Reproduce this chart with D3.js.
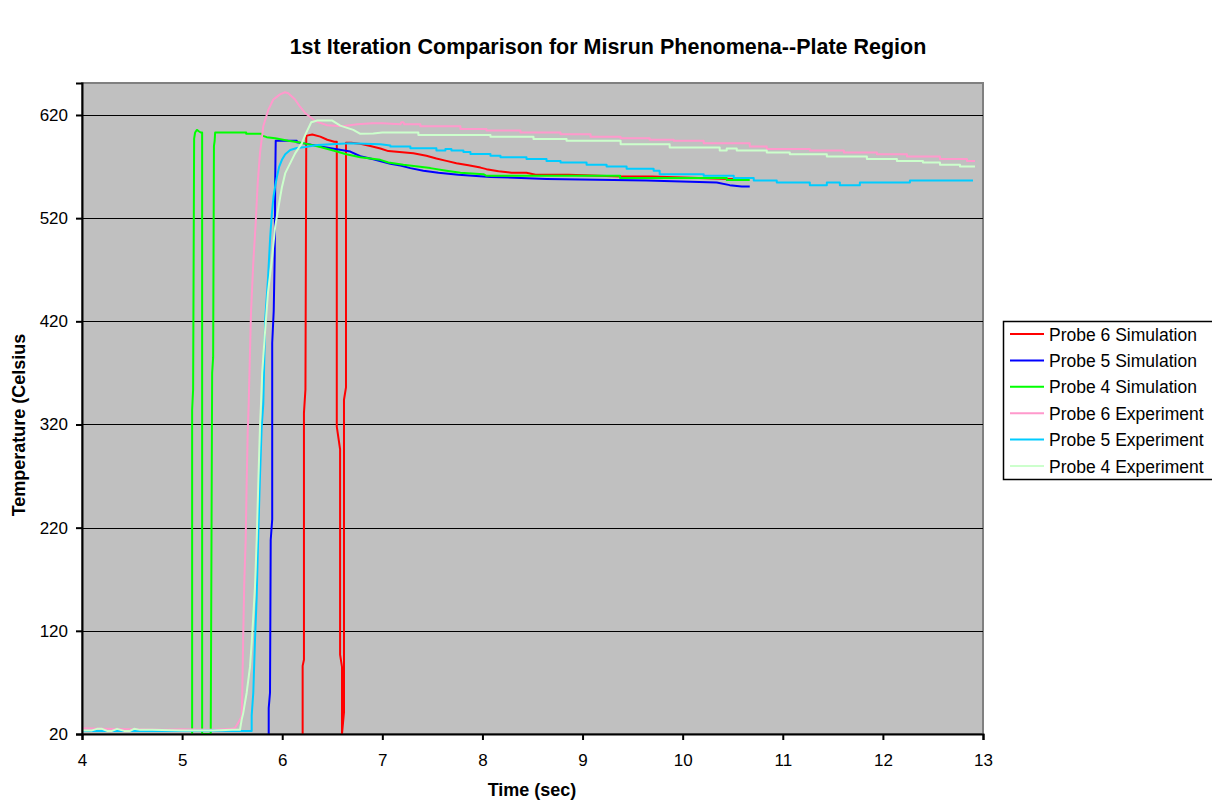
<!DOCTYPE html>
<html><head><meta charset="utf-8">
<script src="https://cdn.jsdelivr.net/npm/d3@7"></script>
<style>
html,body{margin:0;padding:0;background:#fff;}
svg{display:block;font-family:Arial,"Liberation Sans",sans-serif;}
</style></head>
<body>
<svg id="chart" width="1212" height="803"></svg>
<script>
// ---- data ([time sec, temperature C]) ----
const seriesNames = ["Probe 6 Simulation","Probe 5 Simulation","Probe 4 Simulation",
                     "Probe 6 Experiment","Probe 5 Experiment","Probe 4 Experiment"];
const seriesColors = ["#ff0000","#0000ff","#00ff00","#ff99cc","#00ccff","#ccffcc"];
const xTicks = [4,5,6,7,8,9,10,11,12,13];
const yTicks = [20,120,220,320,420,520,620];

const probe6Sim = [[6.204,20],[6.204,86],[6.217,92],[6.217,331],[6.232,354],[6.24,598],[6.245,600],[6.30,601],[6.38,599],[6.45,596],[6.52,594],[6.545,594],[6.545,318],[6.578,296],[6.578,97],[6.597,85],[6.597,20],[6.617,41],[6.617,344],[6.637,356],[6.637,593],[6.69,593],[6.78,592],[6.88,590],[6.98,587.5],[7.06,585],[7.31,583],[7.44,580.4],[7.54,577.8],[7.64,575.5],[7.74,573.3],[7.86,571.3],[7.98,569],[8.04,567.5],[8.16,565.5],[8.29,564],[8.44,564],[8.53,562],[8.86,562],[9.39,560.3],[9.69,560.3],[10.47,558],[10.52,558]];

const probe5Sim = [[5.865,20],[5.865,45],[5.878,60],[5.885,208],[5.90,228],[5.90,399],[5.915,430],[5.925,483],[5.93,557],[5.935,595],[6.145,595],[6.145,593.6],[6.245,592],[6.41,589],[6.53,587],[6.68,584.5],[6.78,580],[6.91,577],[7.08,572.6],[7.18,571],[7.28,568.5],[7.41,566],[7.56,564],[7.76,562],[8.08,560],[8.64,558],[9.64,556.5],[10.34,554.5],[10.47,552],[10.59,550.6],[10.67,550.6]];

const probe4Sim = [[5.10,20],[5.10,334],[5.11,354],[5.12,597],[5.13,603],[5.148,605.5],[5.17,604],[5.186,603],[5.20,603],[5.20,20],[5.286,20],[5.29,120],[5.30,370],[5.31,385],[5.318,590],[5.325,595],[5.33,603],[5.64,603],[5.64,601.7],[5.795,601.7],[5.80,600],[5.845,598.5],[5.93,597.5],[6.06,595],[6.16,593.6],[6.245,592],[6.38,589],[6.51,585.5],[6.64,582],[6.78,579],[6.98,576.5],[7.06,574],[7.21,571.7],[7.48,568.5],[7.64,566],[7.78,564],[8.01,562.6],[8.04,561],[9.375,561],[9.375,559],[10.44,559],[10.44,557],[10.67,557]];

const probe6Exp = [[4.0,25.5],[4.2,25],[4.5,24.5],[4.8,24],[5.0,24.5],[5.3,24],[5.5,25],[5.53,26],[5.56,31],[5.595,37],[5.601,60],[5.611,118],[5.621,167],[5.635,208],[5.645,263],[5.655,312],[5.665,340],[5.688,428],[5.711,477],[5.735,515],[5.755,554],[5.778,583],[5.811,609],[5.861,625],[5.911,635],[5.978,640],[6.028,642],[6.061,641],[6.128,635],[6.178,628],[6.228,622],[6.28,618],[6.33,614],[6.45,610],[6.6,609],[6.75,611],[6.9,612],[7.0,612],[7.18,611],[7.19,613],[7.21,613],[7.22,611],[7.38,611],[7.38,609],[7.78,609],[7.78,606.5],[8.04,606.5],[8.04,605],[8.38,605],[8.38,603],[8.78,603],[8.78,601.4],[9.08,601.4],[9.08,599],[9.38,599],[9.38,597.5],[9.67,597.5],[9.67,596],[9.91,596],[9.91,595],[10.21,595],[10.21,592.5],[10.67,592.5],[10.67,589.4],[10.84,589.4],[10.84,587],[11.27,587],[11.27,585.5],[11.61,585.5],[11.61,583.6],[11.94,583.6],[11.94,582],[12.24,582],[12.24,579.7],[12.57,579.7],[12.57,577.4],[12.84,577.4],[12.84,575.5],[12.92,575.5]];

const probe5Exp = [[4.0,23],[4.3,23],[4.6,23],[5.0,23],[5.3,23.5],[5.5,23],[5.695,23],[5.695,38],[5.711,60],[5.728,111],[5.745,153],[5.761,215],[5.778,270],[5.795,318],[5.811,340],[5.83,422],[5.857,460],[5.88,502],[5.897,525],[5.913,541],[5.93,551],[5.947,560],[5.97,570],[5.997,576.5],[6.03,582],[6.08,586],[6.147,588],[6.23,589],[6.35,591],[6.68,592.7],[6.98,591.7],[7.08,590.4],[7.08,589.4],[7.28,589.4],[7.28,587.8],[7.54,587.8],[7.54,585.5],[7.63,585.5],[7.63,587],[7.69,587],[7.69,585.5],[7.81,585.5],[7.81,584],[7.88,584],[7.88,582.3],[8.08,582.3],[8.08,580.4],[8.18,580.4],[8.18,579],[8.44,579],[8.44,577.4],[8.64,577.4],[8.64,575.5],[8.78,575.5],[8.78,573.9],[9.04,573.9],[9.04,571.7],[9.24,571.7],[9.24,570],[9.44,570],[9.44,567.8],[9.71,567.8],[9.71,566],[9.77,566],[9.77,562.6],[10.21,562.6],[10.21,561],[10.51,561],[10.51,559],[10.71,559],[10.71,556.5],[10.94,556.5],[10.94,554.5],[11.27,554.5],[11.27,552],[11.44,552],[11.44,554.5],[11.57,554.5],[11.57,552],[11.77,552],[11.77,554.5],[12.27,554.5],[12.27,556.5],[12.90,556.5]];

const probe4Exp = [[4.0,23.5],[4.1,23.5],[4.15,25],[4.2,25],[4.25,23],[4.3,23],[4.35,25],[4.42,23],[4.48,23],[4.52,25],[4.58,24],[4.7,24],[5.0,23.5],[5.3,23.5],[5.5,24],[5.578,24],[5.595,34],[5.61,40],[5.645,60],[5.678,85],[5.695,108],[5.711,134],[5.728,163],[5.745,208],[5.761,263],[5.778,318],[5.788,340],[5.80,370],[5.83,412],[5.857,447],[5.897,480],[5.93,512],[5.963,531],[5.997,550],[6.03,563.6],[6.08,573.3],[6.13,583],[6.197,592.7],[6.23,600.7],[6.29,613],[6.35,614.6],[6.50,614.6],[6.58,609.7],[6.71,605.6],[6.78,601.7],[6.91,602],[7.0,603],[7.36,603],[7.36,600.7],[8.08,600.7],[8.08,599],[8.51,599],[8.51,596.8],[8.84,596.8],[8.84,595],[9.38,595],[9.38,591.7],[9.87,591.7],[9.87,588.5],[10.37,588.5],[10.37,585.5],[10.44,585.5],[10.44,587.5],[10.54,587.5],[10.54,585.5],[10.84,585.5],[10.84,583.6],[11.07,583.6],[11.07,582],[11.44,582],[11.44,579.7],[11.84,579.7],[11.84,577.4],[12.14,577.4],[12.14,575.5],[12.40,575.5],[12.40,573.9],[12.57,573.9],[12.57,571.7],[12.77,571.7],[12.77,570],[12.92,570]];

const seriesData = [probe6Sim, probe5Sim, probe4Sim, probe6Exp, probe5Exp, probe4Exp];

// ---- layout ----
const W = 1212, H = 803;
const plot = {left: 82, top: 83, right: 983, bottom: 734};
const svg = d3.select("#chart");

const x = d3.scaleLinear().domain([4, 13]).range([plot.left, plot.right]);
const y = d3.scaleLinear().domain([20, 651]).range([plot.bottom, plot.top]);

// title
svg.append("text").attr("x", 608).attr("y", 54).attr("text-anchor", "middle")
  .attr("font-size", 21.5).attr("font-weight", "bold").text("1st Iteration Comparison for Misrun Phenomena--Plate Region");

// plot background
svg.append("rect").attr("x", plot.left).attr("y", plot.top)
  .attr("width", plot.right - plot.left).attr("height", plot.bottom - plot.top)
  .attr("fill", "#c0c0c0").attr("stroke", "#808080").attr("stroke-width", 2);

// gridlines
svg.append("g").selectAll("line").data(yTicks.filter(d => d > 20)).join("line")
  .attr("x1", plot.left).attr("x2", plot.right)
  .attr("y1", d => Math.round(y(d)) + 0.5).attr("y2", d => Math.round(y(d)) + 0.5)
  .attr("stroke", "#000").attr("stroke-width", 1);

// series
const line = d3.line().x(d => x(d[0])).y(d => y(d[1]));
const gLines = svg.append("g");
seriesData.forEach((s, i) => {
  gLines.append("path").datum(s).attr("d", line)
    .attr("fill", "none").attr("stroke", seriesColors[i]).attr("stroke-width", 2)
    .attr("stroke-linejoin", "round");
});

// axes
const xAxis = d3.axisBottom(x).tickValues(xTicks).tickSize(6).tickPadding(14).tickFormat(d3.format("d"));
const yAxis = d3.axisLeft(y).tickValues(yTicks).tickSize(6).tickPadding(8).tickFormat(d3.format("d"));
const gx = svg.append("g").attr("transform", `translate(0,${plot.bottom})`).call(xAxis);
const gy = svg.append("g").attr("transform", `translate(${plot.left},0)`).call(yAxis);
[gx, gy].forEach(g => {
  g.select(".domain").attr("stroke", "#000").attr("stroke-width", 2);
  g.selectAll(".tick line").attr("stroke", "#000").attr("stroke-width", 2);
  g.selectAll(".tick text").attr("font-size", 17).attr("fill", "#000")
    .attr("font-family", "Arial, 'Liberation Sans', sans-serif");
});

// axis titles
svg.append("text").attr("x", 532).attr("y", 796).attr("text-anchor", "middle")
  .attr("font-size", 18).attr("font-weight", "bold").text("Time (sec)");
svg.append("text").attr("transform", "translate(25,425) rotate(-90)").attr("text-anchor", "middle")
  .attr("font-size", 18).attr("font-weight", "bold").text("Temperature (Celsius");

// legend
const lg = svg.append("g");
lg.append("rect").attr("x", 1003.5).attr("y", 321.5).attr("width", 215).attr("height", 158)
  .attr("fill", "#fff").attr("stroke", "#000").attr("stroke-width", 1.5);
seriesNames.forEach((n, i) => {
  const yy = 334 + i * 26.4;
  lg.append("line").attr("x1", 1010).attr("x2", 1044).attr("y1", yy).attr("y2", yy)
    .attr("stroke", seriesColors[i]).attr("stroke-width", 2);
  lg.append("text").attr("x", 1049).attr("y", yy + 6.5).attr("font-size", 17.5).text(n);
});
</script>
</body></html>
